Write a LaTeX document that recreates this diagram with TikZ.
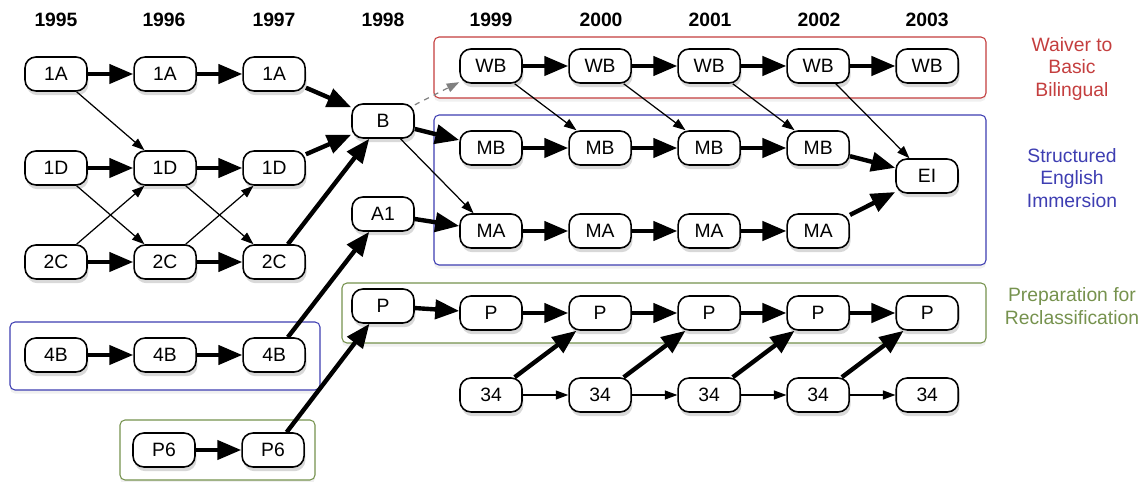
\documentclass[tikz,border=0pt]{standalone}
\usepackage{fontspec}
\setmainfont{Liberation Sans}
\usetikzlibrary{arrows.meta, positioning, shadows}

\definecolor{waiverred}{RGB}{196,62,62}
\definecolor{seiblue}{RGB}{62,62,178}
\definecolor{prepgreen}{RGB}{118,146,78}

\begin{document}
\begin{tikzpicture}[
    x=0.02cm, y=-0.02cm,
    node distance = 5mm and 9.1mm,
    punkt/.style = {rectangle, rounded corners=2.2mm, draw, line width=0.9pt, fill=white,
                    minimum width=1.24cm, minimum height=0.68cm, inner sep=0pt,
                    drop shadow={shadow xshift=0.8pt, shadow yshift=-2.4pt, opacity=0.3}},
    aar/.style = {font=\fontsize{11}{13}\selectfont\bfseries},
    ramme/.style = {rounded corners=1mm, line width=0.6pt, fill=white,
                    drop shadow={shadow xshift=0pt, shadow yshift=-2pt, opacity=0.12}},
    pil/.style = {black, line width=2.5pt, -{Triangle[length=4.8mm,width=3.8mm]}},
    tynd/.style = {black, line width=0.7pt, -{Triangle[length=2.5mm,width=1.8mm]}},
    stiplet/.style = {gray, dashed, line width=0.7pt, -{Triangle[length=2.5mm,width=1.8mm]}},
    font=\fontsize{11}{13}\selectfont
    ]
  \useasboundingbox (0,0) rectangle (1146,482);

  % years
  \node[aar] (y95) at (56,20) {1995};
  \node[aar] (y96) at (164,20) {1996};
  \node[aar] (y97) at (274,20) {1997};
  \node[aar] (y98) at (383,20) {1998};
  \node[aar] (y99) at (491,20) {1999};
  \node[aar] (y00) at (601,20) {2000};
  \node[aar] (y01) at (710,20) {2001};
  \node[aar] (y02) at (819,20) {2002};
  \node[aar] (y03) at (927,20) {2003};

  % groups
  \draw[ramme, draw=waiverred] (434,37) rectangle (986,98);
  \draw[ramme, draw=seiblue] (434,115) rectangle (986,265);
  \draw[ramme, draw=prepgreen] (342,283) rectangle (986,343);
  \draw[ramme, draw=seiblue] (10,322) rectangle (320,390);
  \draw[ramme, draw=prepgreen] (120,420) rectangle (315,480);

  \node[text=waiverred, align=center] (waiver) at (1072,69) {Waiver to\\Basic\\Bilingual};
  \node[text=seiblue, align=center] (sei) at (1072,178) {Structured\\English\\Immersion};
  \node[text=prepgreen, align=center] (prep) at (1072,306) {Preparation for\\Reclassification};

  % 1995 - 1997
  \node[punkt] (a95) at (56,74) {1A};
  \node[punkt] (a96) [right=of a95] {1A};
  \node[punkt] (a97) [right=of a96] {1A};
  \node[punkt] (d95) at (56,168) {1D};
  \node[punkt] (d96) [right=of d95] {1D};
  \node[punkt] (d97) [right=of d96] {1D};
  \node[punkt] (c95) at (56,262) {2C};
  \node[punkt] (c96) [right=of c95] {2C};
  \node[punkt] (c97) [right=of c96] {2C};
  \node[punkt] (fb95) at (56,355) {4B};
  \node[punkt] (fb96) [right=of fb95] {4B};
  \node[punkt] (fb97) [right=of fb96] {4B};
  \node[punkt] (ps96) at (164,450) {P6};
  \node[punkt] (ps97) [right=of ps96] {P6};

  % 1998
  \node[punkt] (b98) at (383,121) {B};
  \node[punkt] (ao98) at (383,214) {A1};
  \node[punkt] (p98) at (383,306) {P};

  % 1999 - 2003
  \node[punkt] (wb99) at (491,66) {WB};
  \node[punkt] (wb00) [right=of wb99] {WB};
  \node[punkt] (wb01) [right=of wb00] {WB};
  \node[punkt] (wb02) [right=of wb01] {WB};
  \node[punkt] (wb03) [right=of wb02] {WB};
  \node[punkt] (mb99) at (491,148) {MB};
  \node[punkt] (mb00) [right=of mb99] {MB};
  \node[punkt] (mb01) [right=of mb00] {MB};
  \node[punkt] (mb02) [right=of mb01] {MB};
  \node[punkt] (ei03) at (927,176) {EI};
  \node[punkt] (ma99) at (491,231) {MA};
  \node[punkt] (ma00) [right=of ma99] {MA};
  \node[punkt] (ma01) [right=of ma00] {MA};
  \node[punkt] (ma02) [right=of ma01] {MA};
  \node[punkt] (p99) at (491,313) {P};
  \node[punkt] (p00) [right=of p99] {P};
  \node[punkt] (p01) [right=of p00] {P};
  \node[punkt] (p02) [right=of p01] {P};
  \node[punkt] (p03) [right=of p02] {P};
  \node[punkt] (t99) at (491,395) {34};
  \node[punkt] (t00) [right=of t99] {34};
  \node[punkt] (t01) [right=of t00] {34};
  \node[punkt] (t02) [right=of t01] {34};
  \node[punkt] (t03) [right=of t02] {34};

  \draw[pil]
  (a95) edge (a96)
  (a96) edge (a97)
  (d95) edge (d96)
  (d96) edge (d97)
  (c95) edge (c96)
  (c96) edge (c97)
  (fb95) edge (fb96)
  (fb96) edge (fb97)
  (ps96) edge (ps97)
  (a97) edge (b98)
  (d97) edge (b98)
  (c97) edge (b98)
  (fb97) edge (ao98)
  (ps97) edge (p98)
  (b98) edge (mb99)
  (ao98) edge (ma99)
  (p98) edge (p99)
  (wb99) edge (wb00)
  (wb00) edge (wb01)
  (wb01) edge (wb02)
  (wb02) edge (wb03)
  (mb99) edge (mb00)
  (mb00) edge (mb01)
  (mb01) edge (mb02)
  (ma99) edge (ma00)
  (ma00) edge (ma01)
  (ma01) edge (ma02)
  (mb02) edge (ei03)
  (ma02) edge (ei03)
  (p99) edge (p00)
  (p00) edge (p01)
  (p01) edge (p02)
  (p02) edge (p03)
  (t99) edge (p00)
  (t00) edge (p01)
  (t01) edge (p02)
  (t02) edge (p03);

  \draw[tynd]
  (a95) edge (d96)
  (d95) edge (c96)
  (c95) edge (d96)
  (d96) edge (c97)
  (c96) edge (d97)
  (b98) edge (ma99)
  (wb99) edge (mb00)
  (wb00) edge (mb01)
  (wb01) edge (mb02)
  (wb02) edge (ei03)
  (t99) edge (t00)
  (t00) edge (t01)
  (t01) edge (t02)
  (t02) edge (t03);

  \draw[stiplet] (b98) -- (wb99);
\end{tikzpicture}
\end{document}
